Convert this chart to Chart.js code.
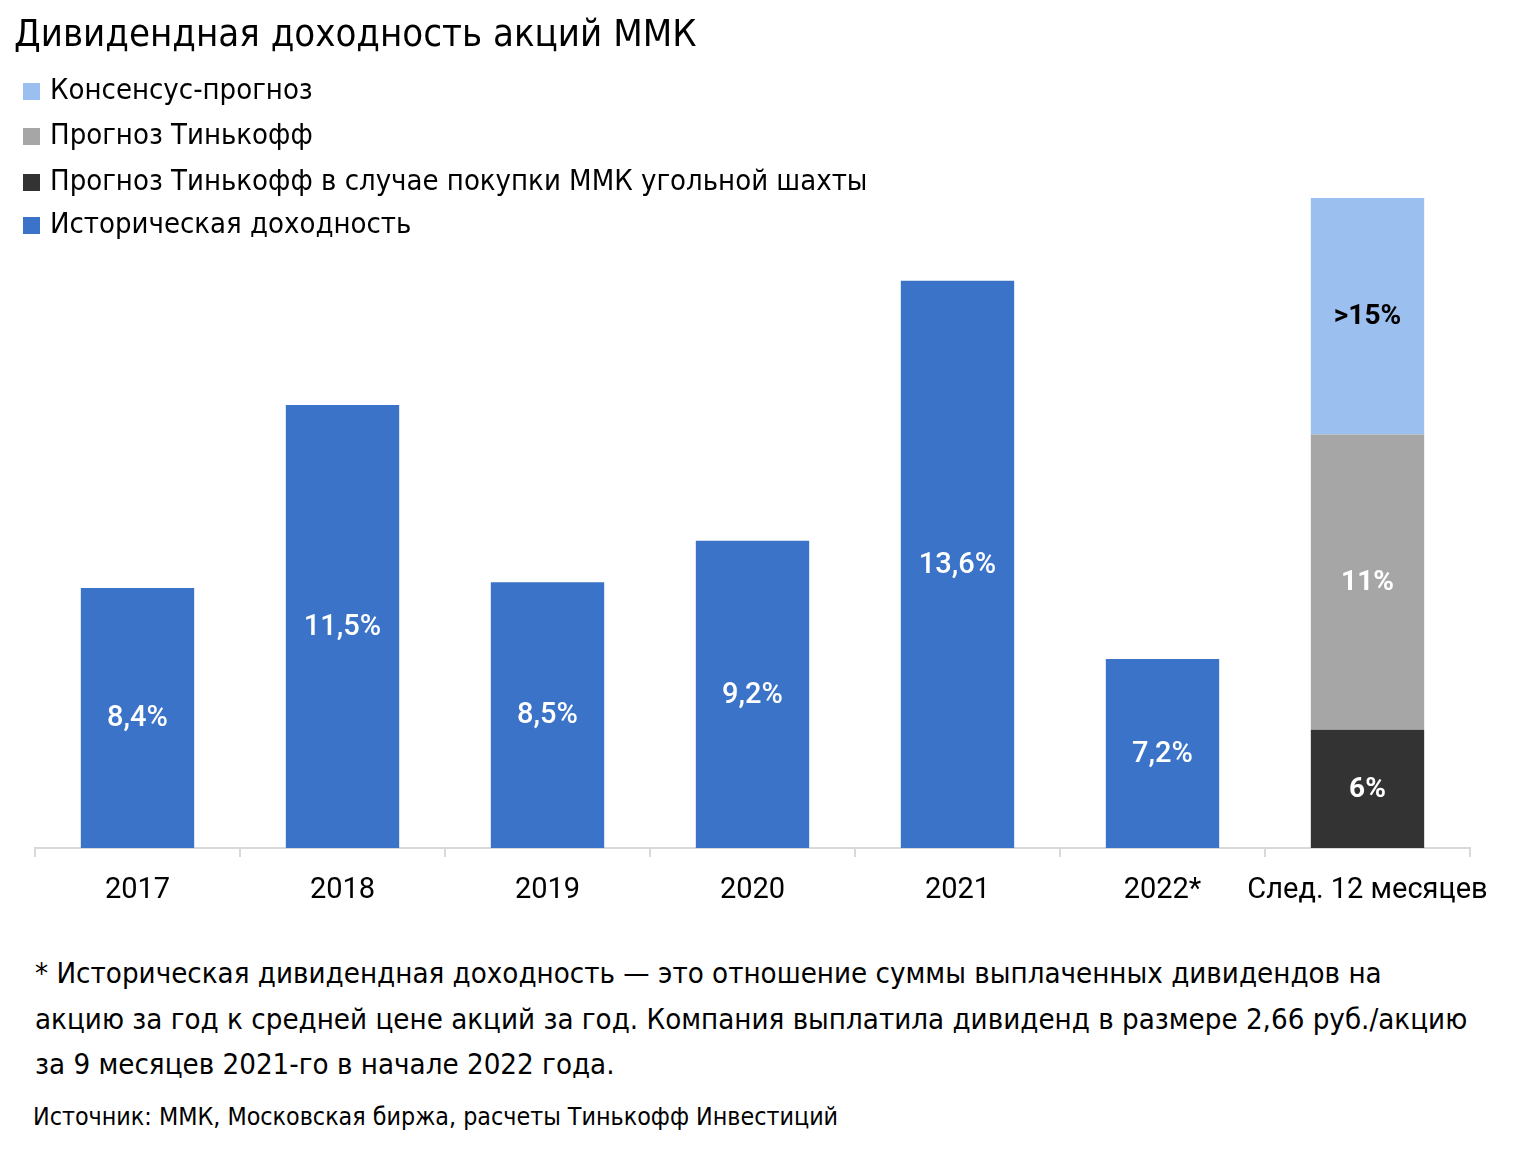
<!DOCTYPE html>
<html lang="ru">
<head>
<meta charset="utf-8">
<script src="https://cdn.jsdelivr.net/npm/chart.js@4"></script>
<style>
  body { margin: 0; background: #fff; width: 1522px; height: 1150px; position: relative; overflow: hidden; }
  #wrap { position: absolute; left: 0; top: 0; width: 1522px; height: 940px; }
  .narrow { font-family: "Liberation Sans Narrow", "DejaVu Sans Condensed", sans-serif; color: #000; position: absolute; white-space: nowrap; }
  #title { left: 14px; top: 11px; font-size: 38px; }
  .leg { left: 23px; font-size: 29px; line-height: 34px; }
  .leg i { display: inline-block; width: 17px; height: 17px; margin-right: 10px; vertical-align: -1px; }
  .note { left: 35px; font-size: 29.2px; line-height: 34px; }
  #src { left: 33px; top: 1102px; font-size: 24.8px; }
</style>
</head>
<body>
<div id="wrap"><canvas id="c" width="1522" height="940"></canvas></div>
<div id="title" class="narrow">Дивидендная доходность акций ММК</div>
<div id="legend"></div>
<div class="narrow note" style="top:956px">* Историческая дивидендная доходность — это отношение суммы выплаченных дивидендов на</div>
<div class="narrow note" style="top:1002px">акцию за год к средней цене акций за год. Компания выплатила дивиденд в размере 2,66 руб./акцию</div>
<div class="narrow note" style="top:1047px">за 9 месяцев 2021-го в начале 2022 года.</div>
<div id="src" class="narrow">Источник: ММК, Московская биржа, расчеты Тинькофф Инвестиций</div>
<script>
// данные
const categories = ["2017", "2018", "2019", "2020", "2021", "2022*", "След. 12 месяцев"];
const historical = [8.4, 11.5, 8.5, 9.2, 13.6, 7.2, null];
// последний столбец — стопка: 6, потом +5 до 11, потом +4 до 15
const coalCase = [null, null, null, null, null, null, 6];
const tinkoffAdd = [null, null, null, null, null, null, 5];
const consensusAdd = [null, null, null, null, null, null, 4];
const stackLabels = ["6%", "11%", ">15%"];

const BLUE = "#3a73c8", LIGHT = "#9bbfee", GRAY = "#a6a6a6", DARK = "#333333";

// легенда в столбик, как в оригинале
const legendItems = [
  ["Консенсус-прогноз", LIGHT],
  ["Прогноз Тинькофф", GRAY],
  ["Прогноз Тинькофф в случае покупки ММК угольной шахты", DARK],
  ["Историческая доходность", BLUE],
];
const legTops = [72, 117, 163, 206];
legendItems.forEach((it, i) => {
  const d = document.createElement("div");
  d.className = "narrow leg";
  d.style.top = legTops[i] + "px";
  d.innerHTML = '<i style="background:' + it[1] + '"></i>' + it[0];
  document.getElementById("legend").appendChild(d);
});

const fmt = v => v.toFixed(1).replace(".", ",") + "%";

const barLabels = {
  id: "barLabels",
  afterDatasetsDraw(chart) {
    const ctx = chart.ctx, area = chart.chartArea;
    ctx.save();
    ctx.textAlign = "center";
    ctx.textBaseline = "middle";
    chart.data.datasets.forEach((ds, di) => {
      const meta = chart.getDatasetMeta(di);
      meta.data.forEach((el, i) => {
        const v = ds.data[i];
        if (v == null) return;
        const top = el.y, bot = Math.min(el.base, area.bottom);
        const y = (top + bot) / 2;
        let txt, col;
        if (di === 0) { txt = fmt(v); col = "#fff"; ctx.font = "500 29px Roboto"; }
        else { txt = stackLabels[di - 1]; col = ds.labelColor; ctx.font = "bold 28px Roboto"; }
        ctx.fillStyle = col;
        ctx.fillText(txt, el.x, y + 1);
      });
    });
    ctx.restore();
  }
};

new Chart(document.getElementById("c"), {
  type: "bar",
  data: {
    labels: categories,
    datasets: [
      { label: "Историческая доходность", data: historical, backgroundColor: BLUE },
      { label: "Прогноз Тинькофф в случае покупки ММК угольной шахты", data: coalCase, backgroundColor: DARK, labelColor: "#fff" },
      { label: "Прогноз Тинькофф", data: tinkoffAdd, backgroundColor: GRAY, labelColor: "#fff" },
      { label: "Консенсус-прогноз", data: consensusAdd, backgroundColor: LIGHT, labelColor: "#000" },
    ],
  },
  options: {
    responsive: false,
    animation: false,
    devicePixelRatio: 1,
    layout: { padding: { left: 35, right: 52, top: 139, bottom: 0 } },
    datasets: { bar: { categoryPercentage: 1, barPercentage: 0.553 } },
    plugins: { legend: { display: false }, tooltip: { enabled: false } },
    scales: {
      x: {
        stacked: true,
        grid: { offset: true, drawOnChartArea: false, tickLength: 9, color: "#d9d9d9", lineWidth: 2 },
        border: { color: "#d9d9d9", width: 2 },
        ticks: { color: "#000", font: { family: "Roboto", size: 29 }, padding: 16, maxRotation: 0, autoSkip: false },
        afterFit(s) { s.height = 940 - 848; },
      },
      y: { stacked: true, display: false, min: 4, max: 16 },
    },
  },
  plugins: [barLabels],
});
</script>
</body>
</html>
